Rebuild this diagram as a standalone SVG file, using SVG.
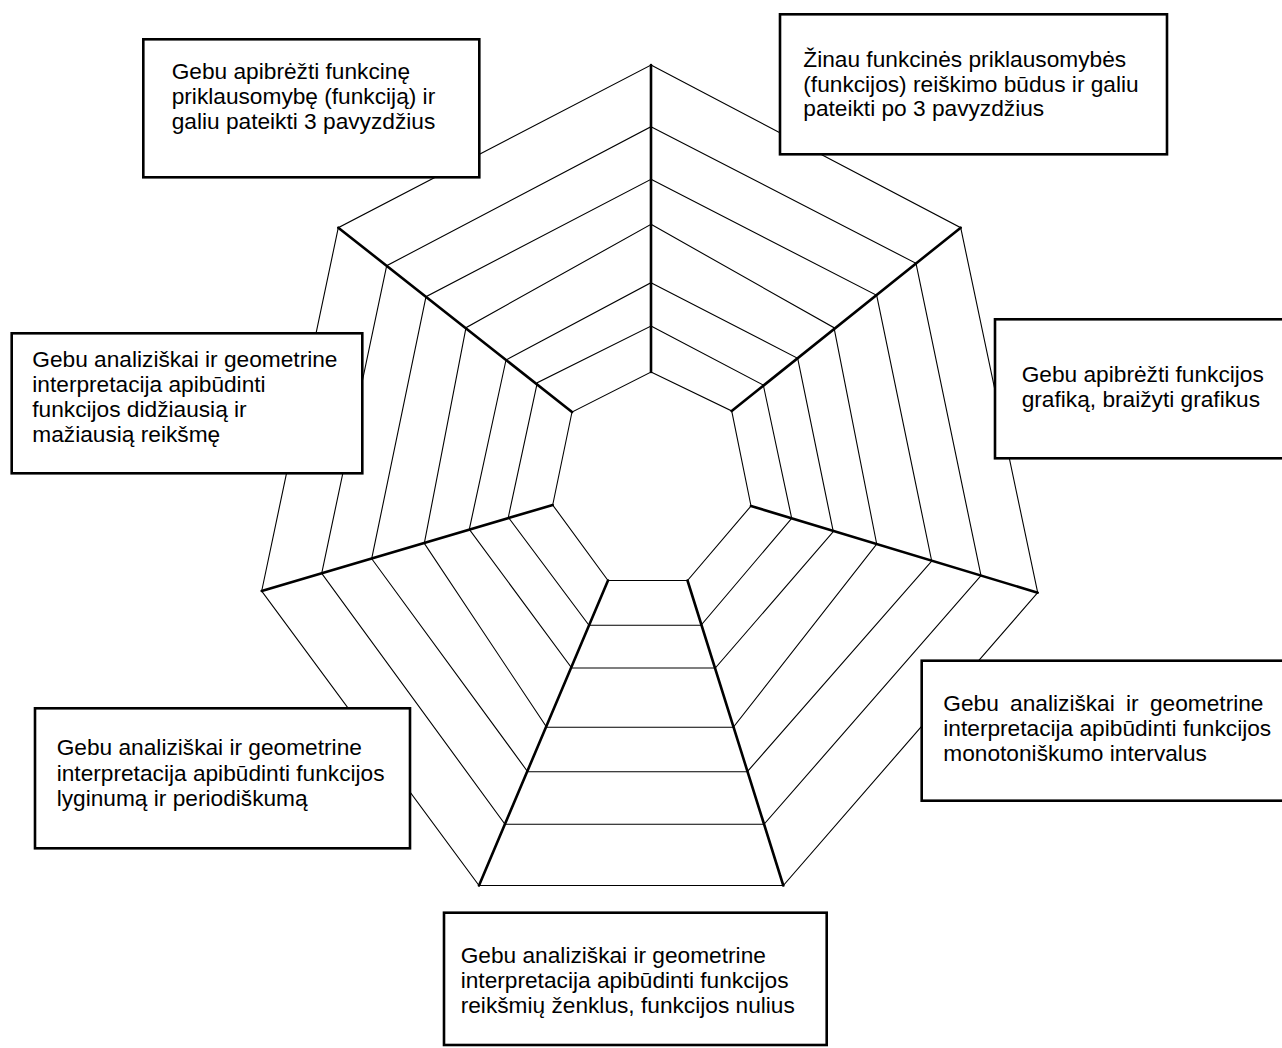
<svg xmlns="http://www.w3.org/2000/svg" width="1282" height="1048" viewBox="0 0 1282 1048">
<style>
.ring{fill:none;stroke:#000;stroke-width:1.1}
.spoke{fill:none;stroke:#000;stroke-width:2.6;stroke-linecap:round}
.box{fill:#fff;stroke:#000;stroke-width:2.6}
.t{font-family:"Liberation Sans",Arial,sans-serif;font-size:22.7px;fill:#000}
</style>
<rect width="1282" height="1048" fill="#fff"/>
<g id="web">
<polygon class="ring" points="651,372 731.7,411 751,506 687.5,580.5 608,580.5 552.7,505 572,412"/>
<polygon class="ring" points="651,326 763.3,385 791.7,518.3 701,625.3 589,625.3 508.3,517.3 537.3,382.7"/>
<polygon class="ring" points="651,282.7 797.7,358.3 833.3,531.7 715.3,668 571.7,668 469.3,529.3 506,360"/>
<polygon class="ring" points="651,224.3 834,327.7 876.7,544 733.3,727.3 546.7,727.3 424.3,543.3 466,327.7"/>
<polygon class="ring" points="651,179.3 876.7,295.3 931.7,561 747.3,771.7 527.7,771.7 371.7,558.7 426,296.7"/>
<polygon class="ring" points="651,126.7 916,263.3 981,575.7 764,824.3 505,824.3 321.7,573.3 386.7,265.7"/>
<polygon class="ring" points="651,65 960.7,227.7 1037.7,592.7 783.3,885.5 479,885.5 261.7,591 338.3,227.7"/>
</g>
<g id="connectors">
<line class="spoke" x1="651" y1="372" x2="651" y2="65"/>
<line class="spoke" x1="731.7" y1="411" x2="960.7" y2="227.7"/>
<line class="spoke" x1="751" y1="506" x2="1037.7" y2="592.7"/>
<line class="spoke" x1="687.5" y1="580.5" x2="783.3" y2="885.5"/>
<line class="spoke" x1="608" y1="580.5" x2="479" y2="885.5"/>
<line class="spoke" x1="552.7" y1="505" x2="261.7" y2="591"/>
<line class="spoke" x1="572" y1="412" x2="338.3" y2="227.7"/>
</g>
<g id="n1">
<rect class="box" x="143.3" y="39.3" width="336" height="138"/>
<text class="t" x="171.7" y="79">Gebu apibrėžti funkcinę</text>
<text class="t" x="171.7" y="104">priklausomybę (funkciją) ir</text>
<text class="t" x="171.7" y="129.3">galiu pateikti 3 pavyzdžius</text>
</g>
<g id="n2">
<rect class="box" x="780" y="14.3" width="387" height="140"/>
<text class="t" x="803.3" y="67">Žinau funkcinės priklausomybės</text>
<text class="t" x="803.3" y="91.5">(funkcijos) reiškimo būdus ir galiu</text>
<text class="t" x="803.3" y="116">pateikti po 3 pavyzdžius</text>
</g>
<g id="n3">
<rect class="box" x="995" y="319.3" width="300" height="139"/>
<text class="t" x="1021.7" y="381.7">Gebu apibrėžti funkcijos</text>
<text class="t" x="1021.7" y="406.7">grafiką, braižyti grafikus</text>
</g>
<g id="n4">
<rect class="box" x="11.7" y="333.3" width="350.6" height="140"/>
<text class="t" x="32.3" y="366.7">Gebu analiziškai ir geometrine</text>
<text class="t" x="32.3" y="391.7">interpretacija apibūdinti</text>
<text class="t" x="32.3" y="416.7">funkcijos didžiausią ir</text>
<text class="t" x="32.3" y="441.7">mažiausią reikšmę</text>
</g>
<g id="n5">
<rect class="box" x="921.7" y="660.7" width="380" height="140"/>
<text class="t" x="943.3" y="711" word-spacing="5">Gebu analiziškai ir geometrine</text>
<text class="t" x="943.3" y="736">interpretacija apibūdinti funkcijos</text>
<text class="t" x="943.3" y="761">monotoniškumo intervalus</text>
</g>
<g id="n6">
<rect class="box" x="35" y="708.3" width="375" height="140"/>
<text class="t" x="56.7" y="755">Gebu analiziškai ir geometrine</text>
<text class="t" x="56.7" y="780.7">interpretacija apibūdinti funkcijos</text>
<text class="t" x="56.7" y="806">lyginumą ir periodiškumą</text>
</g>
<g id="n7">
<rect class="box" x="444" y="912.7" width="382.7" height="132.3"/>
<text class="t" x="460.7" y="963.3">Gebu analiziškai ir geometrine</text>
<text class="t" x="460.7" y="988.3">interpretacija apibūdinti funkcijos</text>
<text class="t" x="460.7" y="1013.3">reikšmių ženklus, funkcijos nulius</text>
</g>
</svg>
